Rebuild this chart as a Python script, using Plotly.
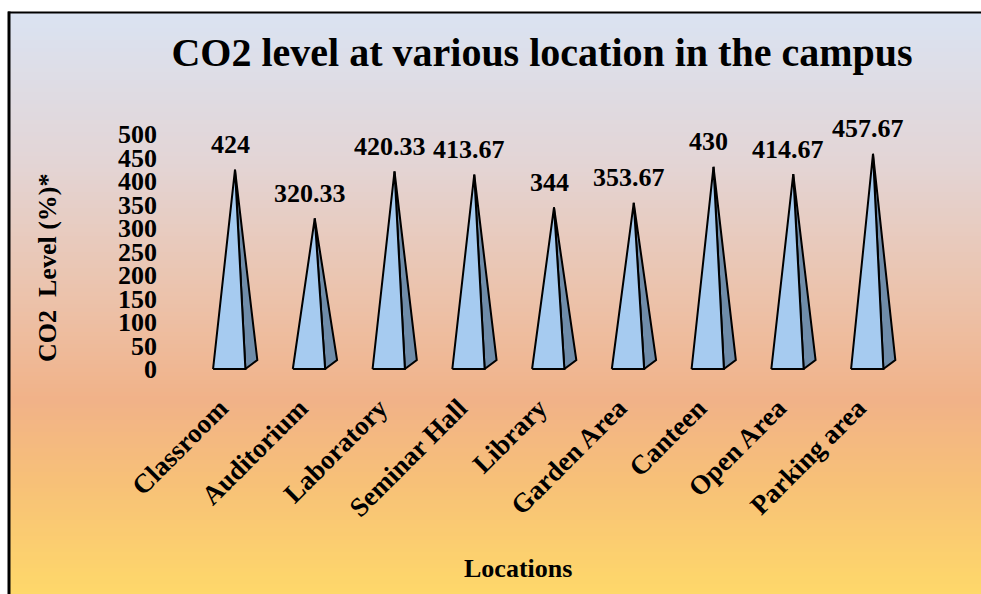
import plotly.graph_objects as go

# ---- data ----
locations = ["Classroom", "Auditorium", "Laboratory", "Seminar Hall", "Library",
             "Garden Area", "Canteen", "Open Area", "Parking area"]
co2_levels = [424, 320.33, 420.33, 413.67, 344, 353.67, 430, 414.67, 457.67]
y_ticks = [0, 50, 100, 150, 200, 250, 300, 350, 400, 450, 500]

# ---- layout geometry (screen px) ----
W, H = 981, 594
PLOT_L, PLOT_R, PLOT_T, PLOT_B = 163, 930, 100, 386
L, R, T, B = PLOT_L, W - PLOT_R, PLOT_T, H - PLOT_B
PW, PH = W - L - R, H - T - B
FONT = "Liberation Serif, Times New Roman, serif"

def px2x(px):  # screen px -> paper x
    return (px - L) / PW

def py2y(py):  # screen py -> paper y
    return (H - B - py) / PH

# category i sits at screen x = 235 + 79.75*i
X0, DX = 235, 79.75
x_range = [(PLOT_L - X0) / DX, (PLOT_R - X0) / DX]
# value 0 at screen y 369, 0.47 px per unit
Y0, SC = 369, 0.47
y_range = [(Y0 - PLOT_B) / SC, (Y0 - PLOT_T) / SC]

# pyramid shape (in axis units relative to category position)
FL, FR, BK, DEPTH = -0.275, 0.13, 0.28, 19

front_x, front_y, side_x, side_y = [], [], [], []
for i, v in enumerate(co2_levels):
    front_x += [i + FL, i + FR, i, i + FL, None]
    front_y += [0, 0, v, 0, None]
    side_x += [i + FR, i + BK, i, i + FR, None]
    side_y += [0, DEPTH, v, 0, None]

fig = go.Figure()
fig.add_trace(go.Scatter(x=side_x, y=side_y, mode="lines", fill="toself",
                         fillcolor="#6F8CA9", line=dict(color="black", width=2),
                         hoverinfo="skip", showlegend=False))
fig.add_trace(go.Scatter(x=front_x, y=front_y, mode="lines", fill="toself",
                         fillcolor="#A6CBF0", line=dict(color="black", width=2),
                         hoverinfo="skip", showlegend=False))

# data labels
for i, v in enumerate(co2_levels):
    fig.add_annotation(x=i, y=v, text=f"{v:g}", showarrow=False, xshift=-5, yshift=25,
                       yanchor="middle", font=dict(family=FONT, size=26, color="black", weight="bold"))

# gradient background bands
stops = [(12, (0xDA, 0xE3, 0xF2)), (160, (0xE3, 0xD5, 0xD6)), (300, (0xEC, 0xC2, 0xAA)),
         (400, (0xF1, 0xB2, 0x88)), (480, (0xF7, 0xC0, 0x78)), (594, (0xFE, 0xD8, 0x6A))]

def col_at(py):
    for (a, ca), (b, cb) in zip(stops[:-1], stops[1:]):
        if a <= py <= b:
            t = (py - a) / (b - a)
            c = [round(ca[k] + (cb[k] - ca[k]) * t) for k in range(3)]
            return f"rgb({c[0]},{c[1]},{c[2]})"
    return "rgb(254,216,106)"

shapes = []
step = 4
py = 12
while py < 600:
    shapes.append(dict(type="rect", xref="paper", yref="paper", layer="below",
                       x0=px2x(9), x1=px2x(990), y0=py2y(py), y1=py2y(py + step + 1),
                       fillcolor=col_at(py + step / 2), line=dict(width=0)))
    py += step
# border
shapes.append(dict(type="line", xref="paper", yref="paper", x0=px2x(9), x1=px2x(9),
                   y0=py2y(11.5), y1=py2y(600), line=dict(color="black", width=3)))
shapes.append(dict(type="line", xref="paper", yref="paper", x0=px2x(8), x1=px2x(990),
                   y0=py2y(12.5), y1=py2y(12.5), line=dict(color="black", width=2)))

# axis titles
fig.add_annotation(xref="paper", yref="paper", x=px2x(47), y=py2y(268), text="CO2  Level (%)*",
                   textangle=-90, showarrow=False, xanchor="center", yanchor="middle",
                   font=dict(family=FONT, size=26, color="black", weight="bold"))
fig.add_annotation(xref="paper", yref="paper", x=px2x(518), y=py2y(568), text="Locations",
                   showarrow=False, xanchor="center", yanchor="middle",
                   font=dict(family=FONT, size=26, color="black", weight="bold"))

fig.update_layout(
    width=W, height=H, margin=dict(l=L, r=R, t=T, b=B),
    paper_bgcolor="white", plot_bgcolor="rgba(0,0,0,0)",
    shapes=shapes,
    title=dict(text="CO2 level at various location in the campus", x=542 / W,
               xanchor="center", y=1 - 52 / H, yanchor="middle", yref="container",
               font=dict(family=FONT, size=40, color="black", weight="bold")),
    xaxis=dict(range=x_range, tickvals=list(range(len(locations))), ticktext=locations,
               tickangle=-45, showgrid=False, zeroline=False, showline=False, ticks="",
               ticklabelshift=-15,
               tickfont=dict(family=FONT, size=27, color="black", weight="bold")),
    yaxis=dict(range=y_range, tickvals=y_ticks,
               showgrid=False, zeroline=False, showline=False, ticks="",
               ticklabelstandoff=5,
               tickfont=dict(family=FONT, size=26, color="black", weight="bold")),
)

fig.write_html("out.html", config={"displayModeBar": False},
               post_script="document.body.style.margin='0';document.body.style.overflow='hidden';")
